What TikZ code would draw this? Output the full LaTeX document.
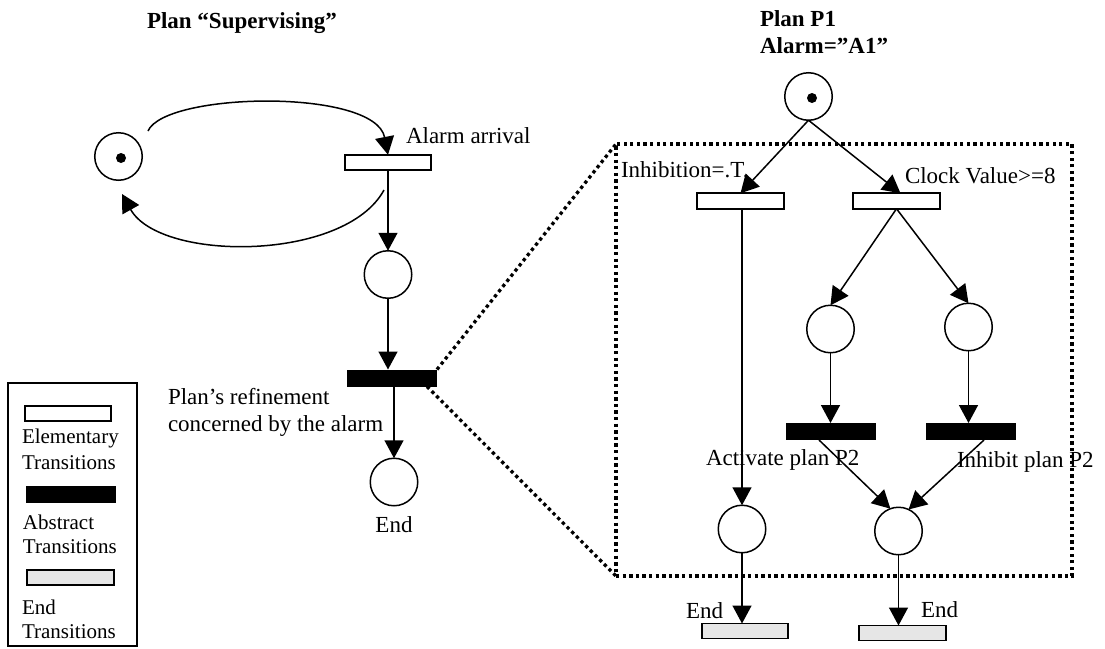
\documentclass[tikz,border=0pt]{standalone}
\usepackage{fontspec}
\setmainfont{Liberation Serif}
\usetikzlibrary{arrows.meta}
\definecolor{endgray}{HTML}{E6E6E6}
\begin{document}
\begin{tikzpicture}[x=1pt,y=-1pt,
  every node/.style={inner sep=0pt, outer sep=0pt},
  plc/.style={circle, draw, line width=1.5pt, minimum size=47.5pt},
  trn/.style={rectangle, draw, line width=1.6pt, minimum width=86.5pt, minimum height=15.5pt},
  abstr/.style={rectangle, fill=black, minimum width=90pt, minimum height=17pt},
  endtr/.style={rectangle, draw, fill=endgray, line width=1.6pt, minimum width=86.5pt, minimum height=15pt},
  arcto/.style={line width=1.5pt, -{Triangle[length=18pt,width=19pt]}},
  dots/.style={line width=3.3pt, dash pattern=on 3.3pt off 3.3pt},
  tok/.style={circle, fill=black, minimum size=10pt},
  lbl/.style={font=\fontsize{23}{27}\selectfont, anchor=base west},
  ttl/.style={font=\bfseries\fontsize{23}{27}\selectfont, anchor=base west},
  leg/.style={font=\fontsize{21}{26}\selectfont, anchor=base west}]
\useasboundingbox (0,0) rectangle (1105,648);

% ---------- Plan "Supervising" ----------
\node[ttl] (title1) at (147,28) {Plan “Supervising”};
\node[plc] (s0) at (118.5,156.5) {};
\node[tok] (tok0) at (121,158) {};
\node[trn] (s1) at (388,162.5) {};
\node[plc] (s2) at (388,274.5) {};
\node[abstr] (s3) at (392,378) {};
\node[plc] (s4) at (394,482) {};
\node[lbl] (alarm) at (406,143) {Alarm arrival};
\node[lbl] (ref1) at (168,404) {Plan’s refinement};
\node[lbl] (ref2) at (168,431) {concerned by the alarm};
\node[lbl, anchor=base] (end0) at (394,532) {End};

\coordinate (c0) at (148,131);
\coordinate (c1) at (384,190);
\coordinate (c2) at (122,194);
\draw[arcto] (c0) .. controls (165,92) and (375,88) .. (s1.north);
\draw[arcto] (c1) .. controls (345,262) and (160,262) .. (c2);
\draw[arcto] (s1.south -| s2.north) -- (s2.north);
\draw[arcto] (s2.south) -- (s2.south |- s3.north);
\draw[arcto] (s4.north |- s3.south) -- (s4.north);

% ---------- Plan P1 ----------
\node[ttl] (title2) at (760,26) {Plan P1};
\node[ttl] (title3) at (760,53) {Alarm=”A1”};
\node[plc] (p1) at (808.5,96.5) {};
\node[tok] (tok1) at (812,98) {};
\node[trn] (t2) at (740.5,201) {};
\node[trn] (t3) at (896.5,201) {};
\node[plc] (pa) at (830.5,329) {};
\node[plc] (pb) at (968.5,327) {};
\node[abstr] (aa) at (831,431.5) {};
\node[abstr] (ab) at (971,431.5) {};
\node[plc] (pl) at (742,529) {};
\node[plc] (pm) at (898.5,531) {};
\node[endtr] (el) at (745,631) {};
\node[endtr] (er) at (902.5,633) {};
\node[draw, dots, minimum width=456pt, minimum height=432pt] (box) at (844,360) {};

\node[lbl] (inh) at (621,177) {Inhibition=.T.};
\node[lbl] (clk) at (905,183) {Clock Value>=8};
\node[lbl] (act) at (706,465) {Activate plan P2};
\node[lbl] (inp) at (957,467) {Inhibit plan P2};
\node[lbl] (endl) at (686,618) {End};
\node[lbl] (endr) at (921,617) {End};

\draw[arcto] (p1.south) -- (t2.north);
\draw[arcto] (p1.south) -- ([xshift=4pt]t3.north);
\draw[arcto] (t2.south -| pl.north) -- (pl.north);
\draw[arcto] (t3.south) -- (pa.north);
\draw[arcto] (t3.south) -- (pb.north);
\draw[arcto] (pa.south) -- (pa.south |- aa.north);
\draw[arcto] (pb.south) -- (pb.south |- ab.north);
\draw[arcto] ([xshift=-12pt]aa.south) -- (pm.110);
\draw[arcto] ([xshift=13pt]ab.south) -- (pm.65);
\draw[arcto] (pl.south) -- (pl.south |- el.north);
\draw[arcto] (pm.south) -- (pm.south |- er.north);

% zoom lines
\draw[dots] (s3.north east) -- (box.north west);
\draw[dots] ([xshift=-10pt]s3.south east) -- (box.south west);

% ---------- Legend ----------
\node[draw, line width=1.5pt, minimum width=129pt, minimum height=263pt] (legbox) at (72.5,514.5) {};
\node[trn] (lg1) at (68,413.5) {};
\node[leg] (lt1a) at (22,443) {Elementary};
\node[leg] (lt1b) at (22,469) {Transitions};
\node[abstr] (lg2) at (70.5,494.5) {};
\node[leg] (lt2a) at (23,529) {Abstract};
\node[leg] (lt2b) at (23,553) {Transitions};
\node[endtr] (lg3) at (70.5,577.5) {};
\node[leg] (lt3a) at (22,614) {End};
\node[leg] (lt3b) at (22,638) {Transitions};
\end{tikzpicture}
\end{document}
